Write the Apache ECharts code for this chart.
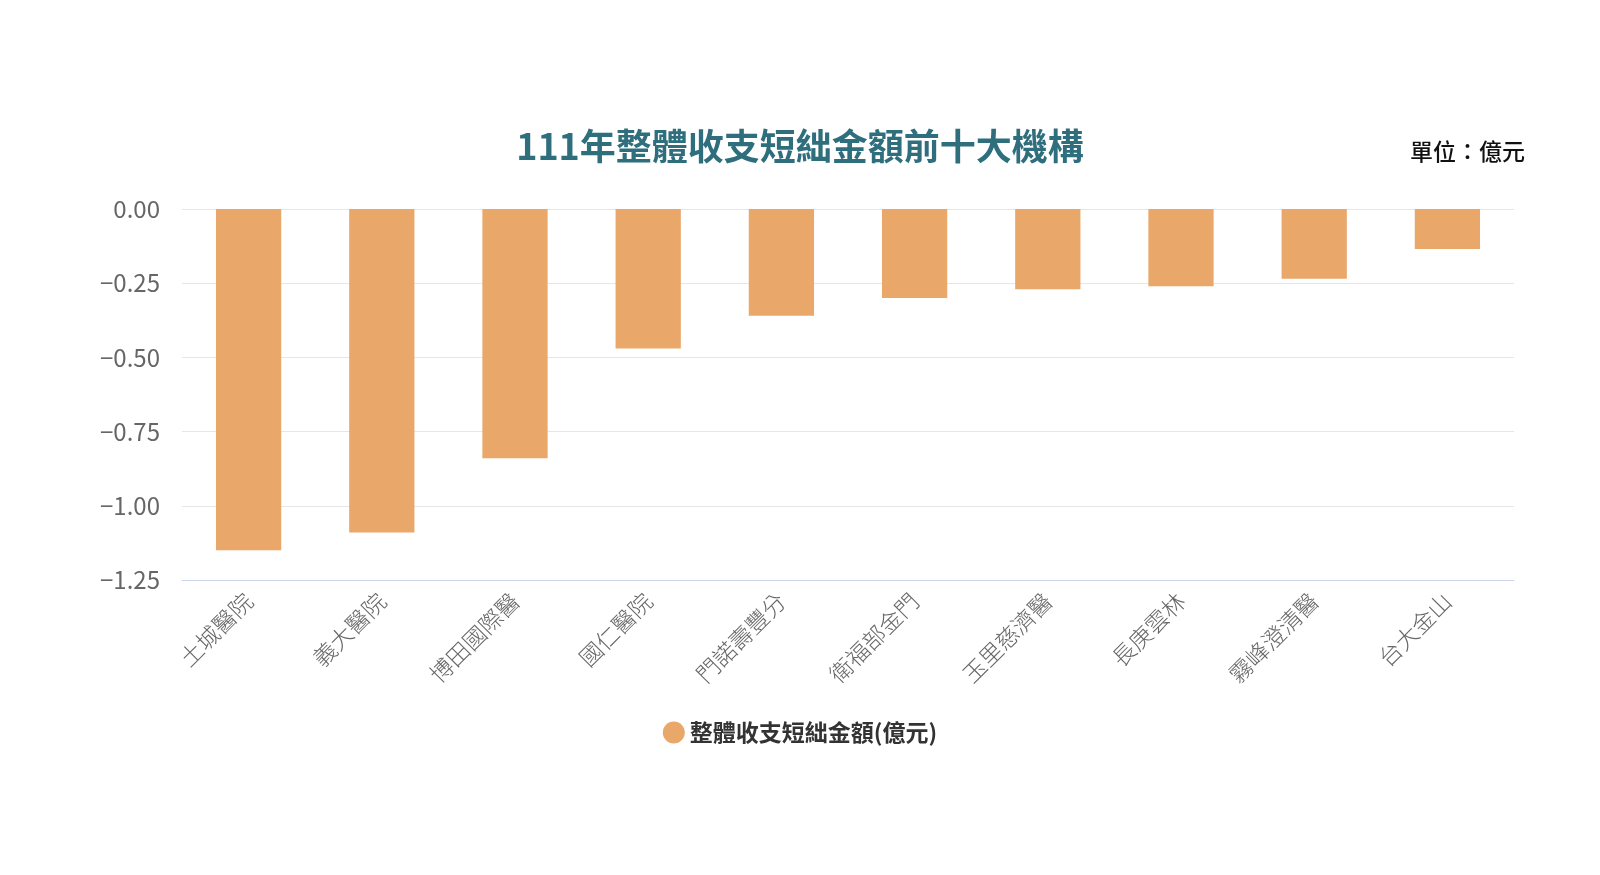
<!DOCTYPE html>
<html><head><meta charset="utf-8">
<script src="https://cdn.jsdelivr.net/npm/echarts@6/dist/echarts.min.js"></script>
<style>html,body{margin:0;padding:0;background:#fff}#c{width:1600px;height:875px}</style>
</head><body><div id="c"></div>
<script>
const categories = ['土城醫院','義大醫院','博田國際醫','國仁醫院','門諾壽豐分','衛福部金門','玉里慈濟醫','長庚雲林','霧峰澄清醫','台大金山'];
const values = [-1.15, -1.09, -0.84, -0.47, -0.36, -0.30, -0.27, -0.26, -0.235, -0.135];
const seriesName = '整體收支短絀金額(億元)';
const titleText = '111年整體收支短絀金額前十大機構';
const unitText = '單位：億元';
const FONT = '"Noto Sans CJK TC", "Noto Sans", sans-serif';
const chart = echarts.init(document.getElementById('c'));
chart.setOption({
  animation: false,
  textStyle: {fontFamily: FONT},
  title: [{
    text: titleText, left: 'center', top: 123,
    textStyle: {color: '#2f6f7d', fontSize: 36, fontWeight: 'bold', fontFamily: FONT}
  }, {
    text: unitText, right: 70, top: 135,
    textStyle: {color: '#111', fontSize: 23, fontWeight: 500, fontFamily: FONT}
  }],
  legend: {
    bottom: 126, left: 'center', icon: 'circle', itemWidth: 22, itemHeight: 22, itemGap: 10,
    textStyle: {color: '#333', fontSize: 23, fontWeight: 'bold', fontFamily: FONT}
  },
  grid: {left: 182, right: 86, top: 209, bottom: 295, containLabel: false},
  xAxis: {
    type: 'category', data: categories, position: 'bottom',
    axisLine: {onZero: false, lineStyle: {color: '#ccd6eb'}},
    axisTick: {show: false},
    axisLabel: {rotate: 45, color: '#666', fontSize: 23, fontWeight: 300, margin: 17, interval: 0}
  },
  yAxis: {
    type: 'value', min: -1.25, max: 0, interval: 0.25,
    axisLine: {show: false}, axisTick: {show: false},
    splitLine: {lineStyle: {color: '#e6e6e6'}},
    axisLabel: {color: '#666', fontSize: 24, margin: 22,
      formatter: v => (v < 0 ? '\u2212' : '') + Math.abs(v).toFixed(2)}
  },
  series: [{
    name: seriesName, type: 'bar', data: values, barWidth: '49%',
    itemStyle: {color: '#e9a76a'}
  }]
});
</script></body></html>
